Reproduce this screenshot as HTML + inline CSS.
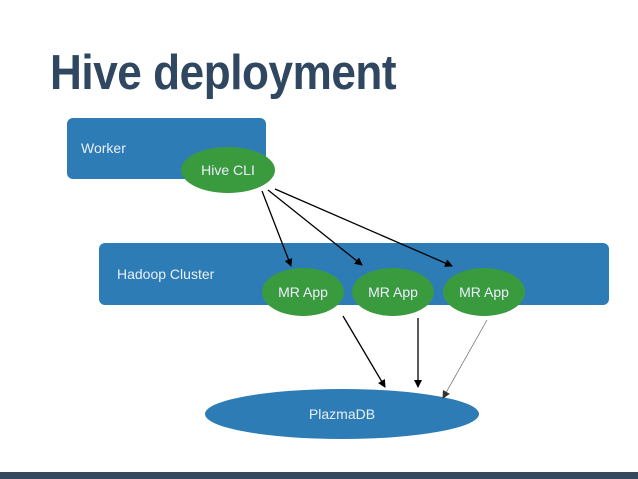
<!DOCTYPE html>
<html><head><style>
body{margin:0;width:638px;height:479px;background:#fff;overflow:hidden;position:relative;font-family:"Liberation Sans",sans-serif}
.t{position:absolute;left:50px;top:45px;font-size:49px;font-weight:bold;color:#2f4760;letter-spacing:-0.5px;transform:scaleX(0.9);transform-origin:0 0;white-space:nowrap}
</style></head><body>
<div class="t">Hive deployment</div>
<svg width="638" height="479" style="position:absolute;left:0;top:0">
<defs><marker id="a" markerWidth="8" markerHeight="8" refX="7" refY="4" orient="auto" markerUnits="userSpaceOnUse"><path d="M0,0L8,4L0,8z" fill="#000"/></marker>
<marker id="g" markerWidth="8" markerHeight="8" refX="7" refY="4" orient="auto" markerUnits="userSpaceOnUse"><path d="M0,0L8,4L0,8z" fill="#333"/></marker></defs>
<rect x="67" y="118" width="199" height="61" rx="6" fill="#2e7cb5"/>
<text x="81" y="153" font-size="14" fill="#e8f0f8" font-family="Liberation Sans">Worker</text>
<ellipse cx="228" cy="170" rx="47" ry="23" fill="#3a9a3e"/>
<text x="228" y="175" font-size="14" fill="#eef" text-anchor="middle" font-family="Liberation Sans">Hive CLI</text>
<rect x="99" y="243" width="510" height="62" rx="6" fill="#2e7cb5"/>
<text x="117" y="279" font-size="14" fill="#e8f0f8" font-family="Liberation Sans">Hadoop Cluster</text>
<ellipse cx="303" cy="292" rx="41" ry="24" fill="#3a9a3e"/>
<ellipse cx="393" cy="292" rx="41" ry="24" fill="#3a9a3e"/>
<ellipse cx="484" cy="292" rx="41" ry="24" fill="#3a9a3e"/>
<g font-size="14" fill="#eef" text-anchor="middle" font-family="Liberation Sans">
<text x="303" y="297">MR App</text><text x="393" y="297">MR App</text><text x="484" y="297">MR App</text></g>
<ellipse cx="342" cy="414" rx="137" ry="25" fill="#2e7cb5"/>
<text x="342" y="419" font-size="14" fill="#e8f0f8" text-anchor="middle" font-family="Liberation Sans">PlazmaDB</text>
<g stroke="#000" stroke-width="1.3" marker-end="url(#a)">
<line x1="262" y1="191" x2="291" y2="266"/>
<line x1="268" y1="190" x2="362" y2="265"/>
<line x1="275" y1="189" x2="452" y2="266"/>
<line x1="343" y1="316" x2="385" y2="387"/>
<line x1="418" y1="318" x2="418" y2="387"/>
</g>
<line x1="487" y1="320" x2="443" y2="398" stroke="#666" stroke-width="0.7" marker-end="url(#g)"/>
<rect x="0" y="472" width="638" height="7" fill="#34495e"/>
</svg>
</body></html>
